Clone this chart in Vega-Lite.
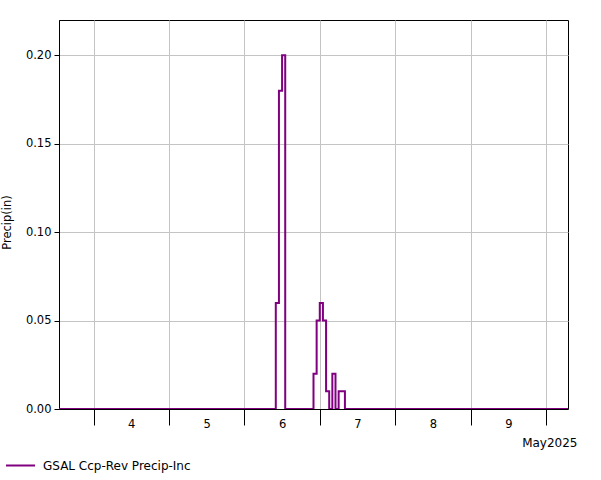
{
  "$schema": "https://vega.github.io/schema/vega-lite/v6.json",
  "width": 509,
  "height": 389,
  "autosize": {"type": "none"},
  "padding": {"left": 59, "top": 20, "right": 33, "bottom": 71},
  "background": "white",
  "config": {
    "font": "DejaVu Sans",
    "view": {"stroke": "black", "strokeWidth": 1},
    "axis": {"labelFont": "DejaVu Sans", "titleFont": "DejaVu Sans", "labelFontSize": 11.5, "titleFontSize": 11.5, "titleFontWeight": "normal", "labelColor": "black", "titleColor": "black", "domainColor": "black", "tickColor": "black", "gridColor": "#c4c4c4", "gridOpacity": 1}
  },
  "data": {
    "values": [
      {"time": "2025-05-03T13:00:00Z", "precip": 0, "series": "GSAL Ccp-Rev Precip-Inc"},
      {"time": "2025-05-06T10:00:00Z", "precip": 0.06, "series": "GSAL Ccp-Rev Precip-Inc"},
      {"time": "2025-05-06T11:00:00Z", "precip": 0.18, "series": "GSAL Ccp-Rev Precip-Inc"},
      {"time": "2025-05-06T12:00:00Z", "precip": 0.20, "series": "GSAL Ccp-Rev Precip-Inc"},
      {"time": "2025-05-06T13:00:00Z", "precip": 0, "series": "GSAL Ccp-Rev Precip-Inc"},
      {"time": "2025-05-06T22:00:00Z", "precip": 0.02, "series": "GSAL Ccp-Rev Precip-Inc"},
      {"time": "2025-05-06T23:00:00Z", "precip": 0.05, "series": "GSAL Ccp-Rev Precip-Inc"},
      {"time": "2025-05-07T00:00:00Z", "precip": 0.06, "series": "GSAL Ccp-Rev Precip-Inc"},
      {"time": "2025-05-07T01:00:00Z", "precip": 0.05, "series": "GSAL Ccp-Rev Precip-Inc"},
      {"time": "2025-05-07T02:00:00Z", "precip": 0.01, "series": "GSAL Ccp-Rev Precip-Inc"},
      {"time": "2025-05-07T03:00:00Z", "precip": 0, "series": "GSAL Ccp-Rev Precip-Inc"},
      {"time": "2025-05-07T04:00:00Z", "precip": 0.02, "series": "GSAL Ccp-Rev Precip-Inc"},
      {"time": "2025-05-07T05:00:00Z", "precip": 0, "series": "GSAL Ccp-Rev Precip-Inc"},
      {"time": "2025-05-07T06:00:00Z", "precip": 0.01, "series": "GSAL Ccp-Rev Precip-Inc"},
      {"time": "2025-05-07T07:00:00Z", "precip": 0.01, "series": "GSAL Ccp-Rev Precip-Inc"},
      {"time": "2025-05-07T08:00:00Z", "precip": 0, "series": "GSAL Ccp-Rev Precip-Inc"},
      {"time": "2025-05-10T07:00:00Z", "precip": 0, "series": "GSAL Ccp-Rev Precip-Inc"}
    ]
  },
  "mark": {"type": "line", "interpolate": "step-after", "strokeWidth": 2, "clip": true},
  "encoding": {
    "x": {
      "field": "time",
      "type": "temporal",
      "scale": {
        "type": "utc",
        "domain": [
          {"year": 2025, "month": 5, "date": 3, "hours": 13, "utc": true},
          {"year": 2025, "month": 5, "date": 10, "hours": 7, "utc": true}
        ]
      },
      "axis": {
        "values": [
          {"year": 2025, "month": 5, "date": 4, "utc": true},
          {"year": 2025, "month": 5, "date": 5, "utc": true},
          {"year": 2025, "month": 5, "date": 6, "utc": true},
          {"year": 2025, "month": 5, "date": 7, "utc": true},
          {"year": 2025, "month": 5, "date": 8, "utc": true},
          {"year": 2025, "month": 5, "date": 9, "utc": true},
          {"year": 2025, "month": 5, "date": 10, "utc": true}
        ],
        "grid": true,
        "tickSize": 16,
        "labelPadding": -7,
        "labelOffset": 37.7,
        "labelExpr": "utcdate(datum.value) == 10 ? '' : utcFormat(datum.value, '%-d')",
        "labelOverlap": false,
        "labelFlush": false,
        "labelBound": false,
        "title": "May2025",
        "titleFontSize": 12,
        "titleX": 518,
        "titleY": 37,
        "titleAlign": "right",
        "titleBaseline": "alphabetic",
        "titleAnchor": null
      }
    },
    "y": {
      "field": "precip",
      "type": "quantitative",
      "scale": {"domain": [0, 0.22], "nice": false, "zero": true},
      "axis": {
        "values": [0, 0.05, 0.1, 0.15, 0.2],
        "format": ".2f",
        "grid": true,
        "tickSize": 5,
        "labelPadding": 3,
        "title": "Precip(in)",
        "titleAngle": -90,
        "titleX": -51.5,
        "titleY": 202,
        "titleAlign": "center",
        "titleBaseline": "middle"
      }
    },
    "color": {
      "field": "series",
      "type": "nominal",
      "scale": {"domain": ["GSAL Ccp-Rev Precip-Inc"], "range": ["#800080"]},
      "legend": {
        "title": null,
        "orient": "none",
        "legendX": -54,
        "legendY": 430,
        "padding": 0,
        "symbolType": "stroke",
        "symbolSize": 840,
        "symbolStrokeWidth": 2,
        "labelFontSize": 12,
        "labelFont": "DejaVu Sans",
        "labelColor": "black",
        "labelOffset": 7
      }
    }
  }
}
